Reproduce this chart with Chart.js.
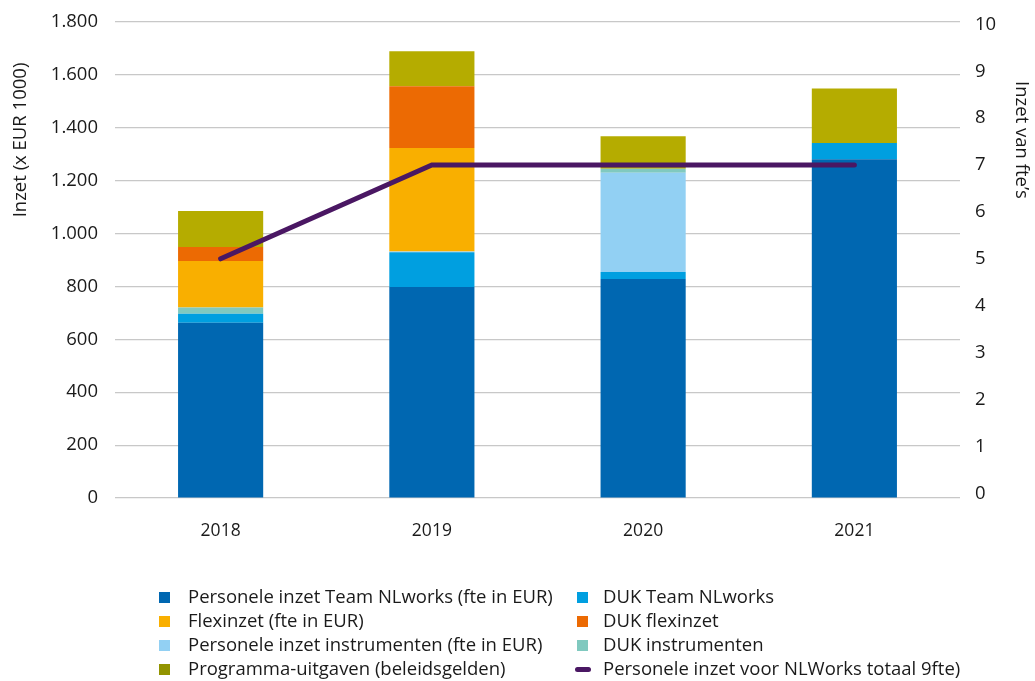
<!DOCTYPE html>
<html>
<head>
<meta charset="utf-8">
<script src="https://cdn.jsdelivr.net/npm/chart.js@4/dist/chart.umd.min.js"></script>
<style>
  html, body { margin: 0; padding: 0; background: #fff; }
  #wrap { position: relative; width: 1035px; height: 681px; }
  #c { position: absolute; left: 0; top: 0; }
  #legend { position: absolute; left: 0; top: 0; width: 1035px; height: 681px; pointer-events: none;
            font-family: "Open Sans", sans-serif; font-size: 18.5px; color: #1a1a1a; }
  .item { position: absolute; white-space: nowrap; line-height: 24px; }
  .sw { position: absolute; width: 11px; height: 11px; }
  .ln { position: absolute; width: 16px; height: 5px; border-radius: 3px; }
</style>
</head>
<body>
<div id="wrap">
  <canvas id="c" width="1035" height="681"></canvas>
  <div id="legend"></div>
</div>
<script>
const years = ['2018', '2019', '2020', '2021'];

const personeleTeam   = [663, 798, 828, 1281];
const dukTeam         = [34, 131, 27, 61];
const personeleInstr  = [0, 3, 375, 0];
const dukInstr        = [23, 0, 15, 0];
const flexinzet       = [176, 392, 0, 0];
const dukFlex         = [53, 233, 0, 0];
const programma       = [136, 132, 123, 207];
const fteTotaal       = [5, 7, 7, 7];

const leftTicks = [0, 200, 400, 600, 800, 1000, 1200, 1400, 1600, 1800];
const rightTicks = [0, 1, 2, 3, 4, 5, 6, 7, 8, 9, 10];

const labels = {
  personeleTeam: 'Personele inzet Team NLworks (fte in EUR)',
  dukTeam: 'DUK Team NLworks',
  flexinzet: 'Flexinzet (fte in EUR)',
  dukFlex: 'DUK flexinzet',
  personeleInstr: 'Personele inzet instrumenten (fte in EUR)',
  dukInstr: 'DUK instrumenten',
  programma: 'Programma-uitgaven (beleidsgelden)',
  fte: 'Personele inzet voor NLWorks totaal 9fte)'
};
const colors = {
  personeleTeam: '#0067B1',
  dukTeam: '#009FE0',
  personeleInstr: '#92D0F3',
  dukInstr: '#80C9BF',
  flexinzet: '#F9AF00',
  dukFlex: '#EC6A03',
  programma: '#B5AC00',
  programmaLegend: '#929400',
  fte: '#4A1763'
};

function fmt(v) {
  return String(v).replace(/\B(?=(\d{3})+(?!\d))/g, '.');
}

function bar(key, data) {
  return {
    type: 'bar', label: labels[key], data: data, backgroundColor: colors[key],
    yAxisID: 'y', stack: 's', order: 1, barPercentage: 0.403, categoryPercentage: 1.0,
    borderWidth: 0
  };
}

const FONT = '"Open Sans", sans-serif';

const titlePlugin = {
  id: 'axisTitles',
  afterDraw(chart) {
    const ctx = chart.ctx;
    ctx.save();
    ctx.font = '18.5px ' + FONT;
    ctx.fillStyle = '#1a1a1a';
    ctx.textAlign = 'center';
    ctx.textBaseline = 'middle';
    ctx.translate(21, 140);
    ctx.rotate(-Math.PI / 2);
    ctx.fillText('Inzet (x EUR 1000)', 0, 0);
    ctx.restore();
    ctx.save();
    ctx.font = '18.5px ' + FONT;
    ctx.fillStyle = '#1a1a1a';
    ctx.textAlign = 'center';
    ctx.textBaseline = 'middle';
    ctx.translate(1021, 140);
    ctx.rotate(Math.PI / 2);
    ctx.fillText('Inzet van fte\u2019s', 0, 0);
    ctx.restore();
  }
};

const chart = new Chart(document.getElementById('c'), {
  data: {
    labels: years,
    datasets: [
      {
        type: 'line', label: labels.fte, data: fteTotaal, yAxisID: 'y1', order: 0,
        borderColor: colors.fte, backgroundColor: colors.fte, borderWidth: 5,
        pointRadius: 0, borderCapStyle: 'round', borderJoinStyle: 'miter', tension: 0, fill: false
      },
      bar('personeleTeam', personeleTeam),
      bar('dukTeam', dukTeam),
      bar('personeleInstr', personeleInstr),
      bar('dukInstr', dukInstr),
      bar('flexinzet', flexinzet),
      bar('dukFlex', dukFlex),
      bar('programma', programma)
    ]
  },
  options: {
    responsive: false,
    animation: false,
    layout: { padding: { top: 22, left: 0, right: 0, bottom: 0 } },
    plugins: { legend: { display: false }, tooltip: { enabled: false } },
    scales: {
      x: {
        stacked: true,
        grid: { display: false, drawTicks: false },
        border: { display: false },
        ticks: { padding: 23, color: '#1a1a1a', font: { family: FONT, size: 17.5 } },
        afterFit(s) { s.height = 183; s.paddingLeft = 0; s.paddingRight = 0; }
      },
      y: {
        stacked: true, position: 'left', min: 0, max: 1800,
        afterBuildTicks(s) { s.ticks = leftTicks.map(v => ({ value: v })); },
        grid: { color: '#c8c8c8', lineWidth: 1.2, drawTicks: false },
        border: { display: false },
        ticks: { padding: 17, color: '#1a1a1a', font: { family: FONT, size: 18.5 },
                 callback: v => fmt(v) },
        afterFit(s) { s.width = 115; s.paddingTop = 0; s.paddingBottom = 0; }
      },
      y1: {
        position: 'right', min: -0.1, max: 10.05,
        afterBuildTicks(s) { s.ticks = rightTicks.map(v => ({ value: v })); },
        grid: { display: false, drawTicks: false },
        border: { display: false },
        ticks: { padding: 15, color: '#1a1a1a', font: { family: FONT, size: 18.5 } },
        afterFit(s) { s.width = 75; s.paddingTop = 0; s.paddingBottom = 0; }
      }
    }
  },
  plugins: [titlePlugin]
});

// HTML legend, built from the chart datasets
const legendLayout = [
  ['personeleTeam', 0, 0], ['dukTeam', 1, 0],
  ['flexinzet', 0, 1], ['dukFlex', 1, 1],
  ['personeleInstr', 0, 2], ['dukInstr', 1, 2],
  ['programma', 0, 3], ['fte', 1, 3]
];
const colX = [159, 577];
const textX = [188, 603];
const rowY = [597, 621, 645, 669];
const leg = document.getElementById('legend');
legendLayout.forEach(([key, col, row]) => {
  const mk = document.createElement('div');
  if (key === 'fte') {
    mk.className = 'ln';
    mk.style.left = (colX[col] - 2) + 'px';
    mk.style.top = (rowY[row] - 2.5) + 'px';
    mk.style.background = colors.fte;
  } else {
    mk.className = 'sw';
    mk.style.left = colX[col] + 'px';
    mk.style.top = (rowY[row] - 5.5) + 'px';
    mk.style.background = key === 'programma' ? colors.programmaLegend : colors[key];
  }
  leg.appendChild(mk);
  const t = document.createElement('div');
  t.className = 'item';
  t.style.left = textX[col] + 'px';
  t.style.top = (rowY[row] - 13) + 'px';
  t.textContent = labels[key];
  leg.appendChild(t);
});
</script>
</body>
</html>
